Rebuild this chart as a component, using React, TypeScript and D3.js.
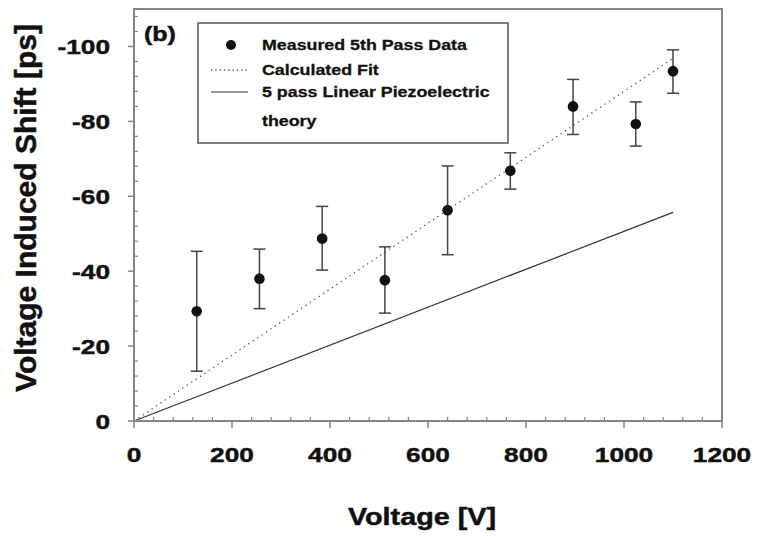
import React from "react";
import * as d3 from "d3";

const voltages = [128, 256, 384, 512, 640, 768, 896, 1024, 1100];
const shift = [-29.3, -38.0, -48.7, -37.6, -56.3, -66.8, -84.0, -79.3, -93.4];
const errHigh = [-45.3, -45.9, -57.3, -46.5, -68.1, -71.6, -91.2, -85.2, -99.1];
const errLow = [-13.3, -30.0, -40.3, -28.8, -44.4, -61.9, -76.5, -73.4, -87.5];

const fitX = [0, 1100];
const fitY = [0, -96.8];
const theoryX = [0, 1100];
const theoryY = [0, -55.7];

const xMajor = [0, 200, 400, 600, 800, 1000, 1200];
const yMajor = [0, -20, -40, -60, -80, -100];
const xTickLabels = ["0", "200", "400", "600", "800", "1000", "1200"];
const yTickLabels = ["0", "-20", "-40", "-60", "-80", "-100"];

const legendLabels = [
  "Measured 5th Pass Data",
  "Calculated Fit",
  "5 pass Linear Piezoelectric",
  "theory",
];

const FONT = "'Liberation Sans', Arial, sans-serif";

export default function App() {
  const W = 758;
  const H = 536;
  const left = 134, right = 722, top = 9, bottom = 421;
  const x = d3.scaleLinear().domain([0, 1200]).range([left, right]);
  const y = d3.scaleLinear().domain([0, -110]).range([bottom, top]);

  const xMinor = d3.range(0, 1200.1, 40).filter((v) => v % 200 !== 0);
  const yMinor = d3.range(0, -110, -4).filter((v) => v % 20 !== 0);

  const line = d3
    .line<[number, number]>()
    .x((d) => x(d[0]))
    .y((d) => y(d[1]));

  const fitPts = fitX.map((v, i) => [v, fitY[i]] as [number, number]);
  const thPts = theoryX.map((v, i) => [v, theoryY[i]] as [number, number]);

  const axisColor = "#858585";
  const sx = 1.25;
  const txt = { fill: "#111", stroke: "#111", strokeWidth: 0.45 };

  return (
    <svg
      width={W}
      height={H}
      style={{ position: "absolute", left: 0, top: 0, background: "#fff" }}
      fontFamily={FONT}
      fontWeight="bold"
    >
      <rect x={0} y={0} width={W} height={H} fill="#fff" />
      <path d={line(thPts) || ""} fill="none" stroke="#333" strokeWidth={1.2} />
      <path
        d={line(fitPts) || ""}
        fill="none"
        stroke="#555"
        strokeWidth={1.3}
        strokeDasharray="1.3,4"
      />
      {voltages.map((v, i) => (
        <g key={"e" + i} stroke="#444" strokeWidth={1.5}>
          <line x1={x(v)} x2={x(v)} y1={y(errHigh[i])} y2={y(errLow[i])} />
          <line x1={x(v) - 6} x2={x(v) + 6} y1={y(errHigh[i])} y2={y(errHigh[i])} />
          <line x1={x(v) - 6} x2={x(v) + 6} y1={y(errLow[i])} y2={y(errLow[i])} />
        </g>
      ))}
      {voltages.map((v, i) => (
        <circle key={"p" + i} cx={x(v)} cy={y(shift[i])} r={5.3} fill="#111" />
      ))}

      <rect
        x={left}
        y={top}
        width={right - left}
        height={bottom - top}
        fill="none"
        stroke={axisColor}
        strokeWidth={2}
      />
      {xMajor.map((v) => (
        <line key={"xm" + v} x1={x(v)} x2={x(v)} y1={bottom} y2={bottom + 7} stroke={axisColor} strokeWidth={1.5} />
      ))}
      {xMinor.map((v) => (
        <line key={"xn" + v} x1={x(v)} x2={x(v)} y1={bottom} y2={bottom - 4} stroke={axisColor} strokeWidth={1.2} />
      ))}
      {yMajor.map((v) => (
        <line key={"ym" + v} x1={left - 6} x2={left} y1={y(v)} y2={y(v)} stroke={axisColor} strokeWidth={1.5} />
      ))}
      {yMinor.map((v) => (
        <line key={"yn" + v} x1={left} x2={left + 4} y1={y(v)} y2={y(v)} stroke={axisColor} strokeWidth={1.2} />
      ))}

      {xMajor.map((v, i) => (
        <text
          key={"xl" + v}
          transform={`translate(${x(v)},${462}) scale(${sx},1)`}
          textAnchor="middle"
          fontSize={21}
          {...txt}
        >
          {xTickLabels[i]}
        </text>
      ))}
      {yMajor.map((v, i) => (
        <text
          key={"yl" + v}
          transform={`translate(${110},${y(v) + 8}) scale(${sx},1)`}
          textAnchor="end"
          fontSize={21}
          {...txt}
        >
          {yTickLabels[i]}
        </text>
      ))}

      <text
        transform={`translate(422,525) scale(${sx},1)`}
        textAnchor="middle"
        fontSize={23}
        {...txt}
      >
        Voltage [V]
      </text>
      <text
        transform={`translate(36,208) rotate(-90)`}
        textAnchor="middle"
        fontSize={30}
        {...txt}
      >
        Voltage Induced Shift [ps]
      </text>

      <text transform={`translate(144,41) scale(${sx},1)`} fontSize={20} {...txt}>
        (b)
      </text>

      <rect x={198} y={23} width={310} height={120} fill="#fff" stroke="#555" strokeWidth={1.5} />
      <circle cx={231} cy={45} r={5} fill="#111" />
      <line x1={211} x2={248} y1={70} y2={70} stroke="#555" strokeWidth={1.3} strokeDasharray="1.3,3" />
      <line x1={211} x2={248} y1={92} y2={92} stroke="#333" strokeWidth={1.2} />
      {legendLabels.map((t, i) => (
        <text
          key={"lg" + i}
          transform={`translate(262,${[50, 75, 97, 126][i]}) scale(1.15,1)`}
          fontSize={15.5}
          fill="#111"
          stroke="#111"
          strokeWidth={0.3}
        >
          {t}
        </text>
      ))}
    </svg>
  );
}
